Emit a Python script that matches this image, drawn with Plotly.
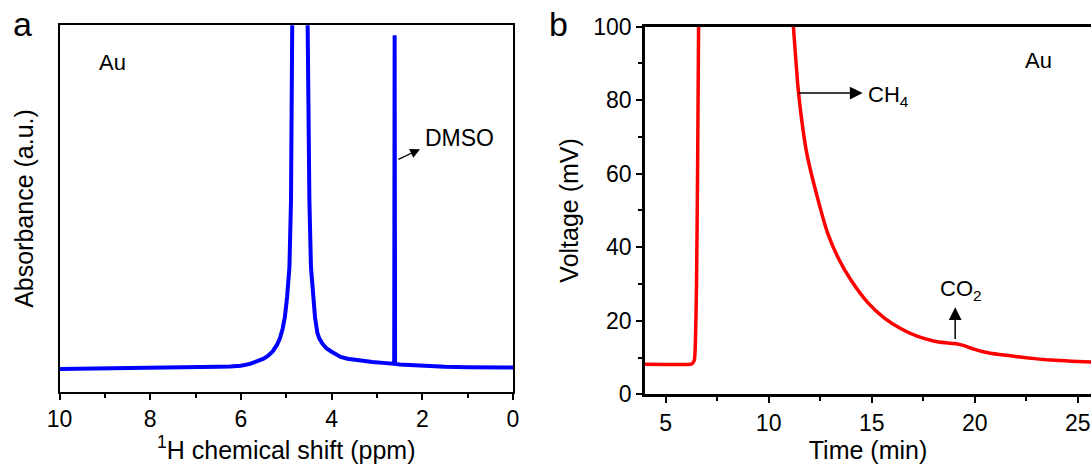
import plotly.graph_objects as go

# ---------------- data ----------------
# Panel a: 1H NMR spectrum (ppm, arbitrary units 0-100 on the visible axis)
nmr_ppm = [10.0, 9.0, 8.0, 7.0, 6.5, 6.24, 6.0, 5.8, 5.65, 5.5, 5.4, 5.3, 5.2, 5.14,
           5.08, 5.03, 4.98, 4.93, 4.895, 4.87, 4.845, 4.82, 4.69, 4.56, 4.536, 4.51,
           4.49, 4.455, 4.41, 4.366, 4.315, 4.27, 4.2, 4.11, 4.0, 3.9, 3.8, 3.65, 3.4,
           3.1, 2.8, 2.7, 2.62, 2.61, 2.60, 2.5, 2.0, 1.5, 1.0, 0.5, 0.0]
nmr_abs = [6.2, 6.3, 6.4, 6.6, 6.8, 6.9, 7.1, 7.6, 8.2, 9.0, 9.8, 11.0, 12.9, 14.6,
           17.2, 20.4, 26.0, 34.0, 52.3, 75.0, 100.0, 140.0, 420.0, 140.0, 100.0, 72.0,
           52.3, 34.0, 26.0, 20.4, 16.1, 14.5, 13.1, 11.8, 10.9, 10.1, 9.5, 9.0, 8.5,
           8.1, 7.8, 7.7, 7.6, 97.3, 7.6, 7.4, 7.0, 6.8, 6.7, 6.6, 6.6]

# Panel b: GC trace (min, mV)
gc_time = [4.0, 5.0, 6.0, 6.25, 6.32, 6.4, 6.45, 6.5, 6.55, 6.6, 6.65, 9.0, 11.0,
           11.2, 11.45, 11.85, 12.4, 12.87, 13.4, 14.0, 14.8, 15.6, 16.4, 17.2, 18.0,
           18.6, 19.0, 19.3, 19.65, 20.0, 20.45, 21.2, 22.1, 22.9, 23.7, 24.7, 25.7]
gc_mv = [8.2, 8.1, 8.1, 8.2, 8.5, 9.5, 15.0, 30.0, 60.0, 100.0, 130.0, 500.0, 115.0,
         100.0, 82.0, 65.5, 52.8, 43.7, 36.8, 31.0, 25.0, 20.8, 17.9, 15.8, 14.5,
         14.0, 13.8, 13.5, 12.9, 12.2, 11.5, 10.8, 10.2, 9.7, 9.3, 9.0, 8.8]

a_ticks = [10, 8, 6, 4, 2, 0]
b_xticks = [5, 10, 15, 20, 25]
b_yticks = [0, 20, 40, 60, 80, 100]

FONT = "Liberation Sans, Arial, Helvetica, sans-serif"
W, H = 1091, 466
TICK = 23
TITLE = 25


def px(x):
    return x / W


def py(y):
    return 1 - y / H


fig = go.Figure()
fig.add_trace(go.Scatter(x=nmr_ppm, y=nmr_abs, mode="lines",
                         line=dict(color="#0000ff", width=4),
                         xaxis="x", yaxis="y", showlegend=False))
fig.add_trace(go.Scatter(x=gc_time, y=gc_mv, mode="lines",
                         line=dict(color="#ff0000", width=3.5, shape="spline", smoothing=0.6),
                         xaxis="x2", yaxis="y2", showlegend=False))

axis_common = dict(showgrid=False, zeroline=False, linecolor="black", automargin=False,
                   tickfont=dict(family=FONT, size=TICK, color="black"),
                   tickcolor="black")

fig.update_layout(
    template="none",
    width=W, height=H,
    margin=dict(l=0, r=0, t=0, b=0, pad=0),
    paper_bgcolor="white", plot_bgcolor="white",
    font=dict(family=FONT, color="black"),
    xaxis=dict(**axis_common, domain=[px(59.5), px(513)], range=[10, 0],
               tickvals=a_ticks, ticks="outside", ticklen=6, tickwidth=1.5,
               minor=dict(dtick=1, ticks="outside", ticklen=4, tickwidth=1.5, tickcolor="black"),
               showline=True, linewidth=2, mirror=True, anchor="y",
               title=dict(text="<sup>1</sup>H chemical shift (ppm)",
                          font=dict(family=FONT, size=TITLE), standoff=8)),
    yaxis=dict(**axis_common, domain=[py(391.7), py(25.3)], range=[0, 100],
               showticklabels=False, ticks="", showline=True, linewidth=2,
               mirror=True, anchor="x",
               title=dict(text="Absorbance (a.u.)", font=dict(family=FONT, size=TITLE),
                          standoff=17)),
    xaxis2=dict(**axis_common, domain=[px(645), 1.0], range=[4, 25.64],
                tickvals=b_xticks, ticks="outside", ticklen=6, tickwidth=1.5,
                minor=dict(dtick=2.5, ticks="outside", ticklen=4, tickwidth=1.5, tickcolor="black"),
                showline=True, linewidth=2.5, mirror=True, anchor="y2",
                title=dict(text="Time (min)", font=dict(family=FONT, size=TITLE), standoff=6)),
    yaxis2=dict(**axis_common, domain=[py(394.3), py(26.5)], range=[0, 100],
                tickvals=b_yticks, ticks="outside", ticklen=6, tickwidth=1.5,
                minor=dict(dtick=10, ticks="outside", ticklen=4, tickwidth=1.5, tickcolor="black"),
                showline=True, linewidth=2.5, mirror=False, anchor="x2",
                title=dict(text="Voltage (mV)", font=dict(family=FONT, size=TITLE), standoff=8)),
)

ann = []
# panel letters
ann.append(dict(text="a", x=px(22), y=py(24), xref="paper", yref="paper",
                xanchor="center", yanchor="middle",
                showarrow=False, font=dict(size=34, family=FONT)))
ann.append(dict(text="b", x=px(558), y=py(24), xref="paper", yref="paper",
                xanchor="center", yanchor="middle",
                showarrow=False, font=dict(size=34, family=FONT)))
# Au labels
ann.append(dict(text="Au", x=px(112), y=py(62), xref="paper", yref="paper",
                xanchor="center", yanchor="middle",
                showarrow=False, font=dict(size=22, family=FONT)))
ann.append(dict(text="Au", x=23.1, y=90.7, xref="x2", yref="y2",
                xanchor="center", yanchor="middle",
                showarrow=False, font=dict(size=22, family=FONT)))
# DMSO arrow + label
ann.append(dict(text="", x=2.05, y=66.2, xref="x", yref="y", ax=2.56, ay=63.2,
                axref="x", ayref="y", showarrow=True, arrowhead=2, arrowsize=1.5,
                arrowwidth=1.3, arrowcolor="black"))
ann.append(dict(text="DMSO", x=1.985, y=69.2, xref="x", yref="y", xanchor="left",
                yanchor="middle", showarrow=False, font=dict(size=23, family=FONT)))
# CH4 arrow + label
ann.append(dict(text="", x=14.56, y=81.9, xref="x2", yref="y2", ax=11.39, ay=81.9,
                axref="x2", ayref="y2", showarrow=True, arrowhead=2, arrowsize=1.7,
                arrowwidth=1.5, arrowcolor="black"))
ann.append(dict(text="CH<sub>4</sub>", x=14.72, y=81.0, xref="x2", yref="y2",
                xanchor="left", yanchor="middle", showarrow=False,
                font=dict(size=22, family=FONT)))
# CO2 arrow + label
ann.append(dict(text="", x=19.05, y=23.7, xref="x2", yref="y2", ax=19.05, ay=14.6,
                axref="x2", ayref="y2", showarrow=True, arrowhead=2, arrowsize=1.7,
                arrowwidth=1.5, arrowcolor="black"))
ann.append(dict(text="CO<sub>2</sub>", x=19.35, y=28.3, xref="x2", yref="y2",
                xanchor="center", yanchor="middle", showarrow=False,
                font=dict(size=22, family=FONT)))
fig.update_layout(annotations=ann)

fig.write_html("out.html")
